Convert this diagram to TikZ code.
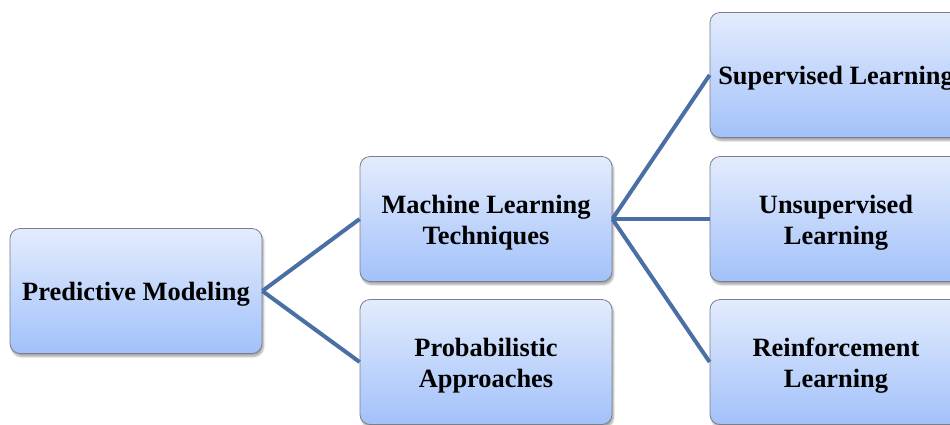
\documentclass[tikz,border=0pt]{standalone}
\usepackage{fontspec}
\setmainfont{Liberation Serif}
\usetikzlibrary{shadows.blur}
\definecolor{linkblue}{HTML}{4A6FA5}
\definecolor{boxtop}{HTML}{E3ECFD}
\definecolor{boxbot}{HTML}{A2C1FA}
\definecolor{boxedge}{HTML}{7A7F88}
\tikzset{
  conceptbox/.style={draw=boxedge, line width=0.8pt, rounded corners=10pt,
    top color=boxtop, bottom color=boxbot, minimum width=252pt, minimum height=125pt,
    blur shadow={shadow xshift=1.5pt, shadow yshift=-3pt, shadow blur steps=6, shadow opacity=35}},
  boxtext/.style={align=center, font=\fontsize{26.4}{31}\selectfont\bfseries, text=black, inner sep=0pt},
  link/.style={draw=linkblue, line width=4pt}
}
\begin{document}
\begin{tikzpicture}[x=1pt,y=-1pt]
\useasboundingbox (0,0) rectangle (950,424);
\begin{scope}
\clip (0,0) rectangle (950,424);
% boxes
\node[conceptbox] (pm) at (136,291) {};
\node[conceptbox] (ml) at (486,219) {};
\node[conceptbox] (pa) at (486,362) {};
\node[conceptbox] (sl) at (836,75) {};
\node[conceptbox] (ul) at (836,219) {};
\node[conceptbox] (rl) at (836,362) {};
% captions, set a little below the box centres
\node[boxtext] (pmt) at ([yshift=-3.5pt]pm.center) {Predictive Modeling};
\node[boxtext] (mlt) at ([yshift=-3.5pt]ml.center) {Machine Learning\\Techniques};
\node[boxtext] (pat) at ([yshift=-3.5pt]pa.center) {Probabilistic\\Approaches};
\node[boxtext] (slt) at ([yshift=-3.5pt]sl.center) {Supervised Learning};
\node[boxtext] (ult) at ([yshift=-3.5pt]ul.center) {Unsupervised\\Learning};
\node[boxtext] (rlt) at ([yshift=-3.5pt]rl.center) {Reinforcement\\Learning};
% connectors
\draw[link] (pm.east) -- (ml.west);
\draw[link] (pm.east) -- (pa.west);
\draw[link] (ml.east) -- (sl.west);
\draw[link] (ml.east) -- (ul.west);
\draw[link] (ml.east) -- (rl.west);
\end{scope}
\end{tikzpicture}
\end{document}
